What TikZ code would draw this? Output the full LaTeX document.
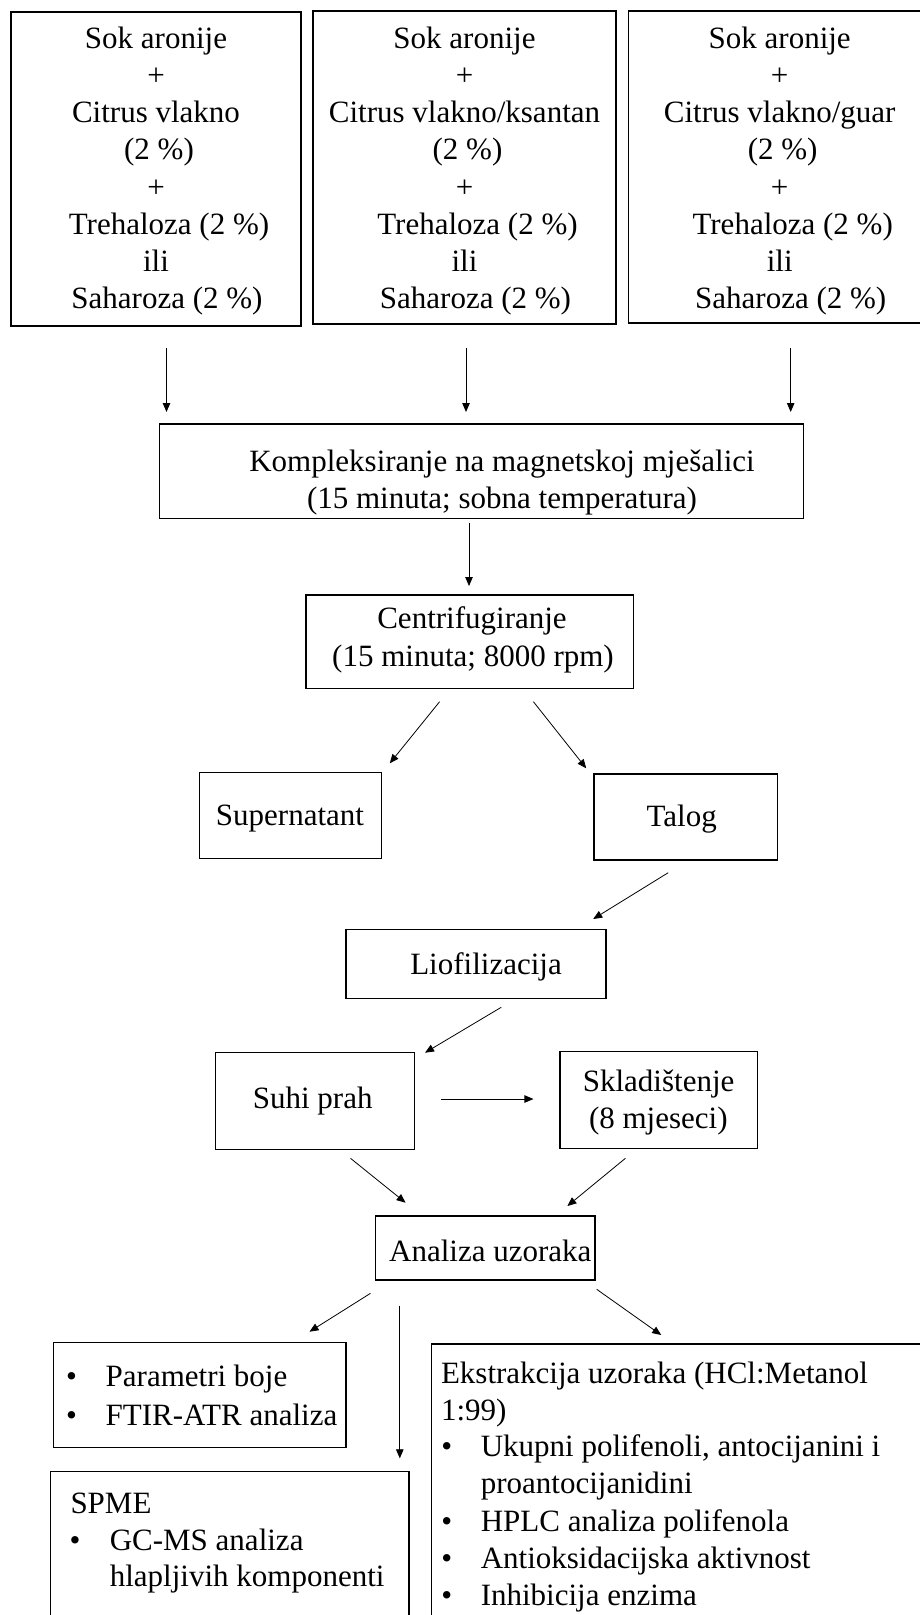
\documentclass[tikz,border=0pt]{standalone}
\usepackage{fontspec}
\setmainfont{Liberation Serif}
\usetikzlibrary{arrows.meta}
\newcommand\myfs{\fontsize{31}{37.2}\selectfont}
\begin{document}
\begin{tikzpicture}[x=1pt,y=-1pt,
  box/.style={draw, line width=1.3pt, inner sep=0pt},
  txt/.style={font=\myfs, anchor=base, inner sep=0pt},
  txtw/.style={font=\myfs, anchor=base west, inner sep=0pt},
  arr/.style={line width=0.8pt, -{Triangle[length=9pt,width=7.5pt]}}]
\useasboundingbox (0,0) rectangle (919,1615);
% boxes
\node[box, minimum width=290pt, minimum height=314pt] (b1) at (156,169) {};
\node[box, minimum width=303pt, minimum height=313pt] (b2) at (464.5,167.5) {};
\node[box, minimum width=303.5pt, minimum height=312pt] (b3) at (780.25,167) {};
\node[box, minimum width=644pt, minimum height=94.5pt] (K) at (481.5,471.25) {};
\node[box, minimum width=327.5pt, minimum height=93.5pt] (C) at (469.75,641.75) {};
\node[box, minimum width=182pt, minimum height=86pt] (S) at (290.5,815.5) {};
\node[box, minimum width=183.5pt, minimum height=86pt] (T) at (685.75,817) {};
\node[box, minimum width=260pt, minimum height=69pt] (L) at (476,964) {};
\node[box, minimum width=199pt, minimum height=97pt] (P) at (315,1101) {};
\node[box, minimum width=197.5pt, minimum height=97pt] (Sk) at (658.75,1100) {};
\node[box, minimum width=219.5pt, minimum height=64pt] (A) at (485.25,1248) {};
\node[box, minimum width=292.5pt, minimum height=105pt] (Pb) at (199.75,1395) {};
\node[box, minimum width=358.5pt, minimum height=168.5pt] (SP) at (229.75,1555.75) {};
\node[box, minimum width=508.5pt, minimum height=296pt] (E) at (685.75,1492) {};
% top box texts
\foreach \cx/\n in {156/1,464.5/2,779.7/3}{
  \node[txt] (s\n) at (\cx,48.3) {Sok aronije};
  \node[txt] (p\n) at (\cx,85.5) {+};
  \node[txt] (q\n) at (\cx+3,159.9) {(2 \%)};
  \node[txt] (r\n) at (\cx,197) {+};
  \node[txt] (t\n) at (\cx+13,234.3) {Trehaloza (2 \%)};
  \node[txt] (i\n) at (\cx,271.5) {ili};
  \node[txt] (h\n) at (\cx+11,308.7) {Saharoza (2 \%)};
}
\node[txt] (c1) at (156,122.7) {Citrus vlakno};
\node[txt] (c2) at (464.5,122.7) {Citrus vlakno/ksantan};
\node[txt] (c3) at (779.7,122.7) {Citrus vlakno/guar};
% middle texts
\node[txt] (k1) at (502,471.7) {Kompleksiranje na magnetskoj mješalici};
\node[txt] (k2) at (502,508) {(15 minuta; sobna temperatura)};
\node[txt] (ce1) at (472,628.3) {Centrifugiranje};
\node[txt] (ce2) at (473,666.7) {(15 minuta; 8000 rpm)};
\node[txt] (su) at (290,825) {Supernatant};
\node[txt] (ta) at (681.7,826.7) {Talog};
\node[txt] (li) at (486,974) {Liofilizacija};
\node[txt] (sp) at (312.7,1108.3) {Suhi prah};
\node[txt] (sk1) at (658.6,1091.7) {Skladištenje};
\node[txt] (sk2) at (658.3,1128.3) {(8 mjeseci)};
\node[txt] (an) at (490.3,1261.7) {Analiza uzoraka};
% bottom-left box
\node[txt] (pb1) at (71.5,1386.7) {\textbullet};
\node[txtw] (pt1) at (105.5,1386.7) {Parametri boje};
\node[txt] (pb2) at (71.5,1425) {\textbullet};
\node[txtw] (pt2) at (105.5,1425) {FTIR-ATR analiza};
% SPME box
\node[txtw] (spme) at (70.3,1513.3) {SPME};
\node[txt] (gb) at (75,1550) {\textbullet};
\node[txtw] (g1) at (109.6,1550) {GC-MS analiza};
\node[txtw] (g2) at (109.6,1586.7) {hlapljivih komponenti};
% Ekstrakcija box
\node[txtw] (e1) at (440.8,1383.3) {Ekstrakcija uzoraka (HCl:Metanol};
\node[txtw] (e2) at (440.8,1420) {1:99)};
\foreach \yy/\tx/\n in {1456.7/{Ukupni polifenoli, antocijanini i}/1,1531.7/{HPLC analiza polifenola}/3,1568.3/{Antioksidacijska aktivnost}/4,1605/{Inhibicija enzima}/5}{
  \node[txt] (eb\n) at (446.7,\yy) {\textbullet};
  \node[txtw] (et\n) at (480.6,\yy) {\tx};
}
\node[txtw] (et2) at (480.6,1493.3) {proantocijanidini};
% arrow end points
\coordinate (a1s) at (166.5,348);   \coordinate (a1e) at (166.5,412);
\coordinate (a2s) at (466,348);     \coordinate (a2e) at (466,412);
\coordinate (a3s) at (790.7,348);   \coordinate (a3e) at (790.7,412);
\coordinate (a4s) at (469,522.7);   \coordinate (a4e) at (469,586);
\coordinate (a5s) at (439.6,701.7); \coordinate (a5e) at (389.8,763.3);
\coordinate (a6s) at (533.4,701.7); \coordinate (a6e) at (586.2,768.3);
\coordinate (a7s) at (668.2,872.7); \coordinate (a7e) at (593.2,919);
\coordinate (a8s) at (501.2,1007.3);\coordinate (a8e) at (425,1052.7);
\coordinate (a9s) at (440.8,1099);  \coordinate (a9e) at (533.4,1099);
\coordinate (a10s) at (350.5,1158.3);\coordinate (a10e) at (405.6,1202.7);
\coordinate (a11s) at (625.4,1158.3);\coordinate (a11e) at (567.4,1206);
\coordinate (a12s) at (370.5,1293.3);\coordinate (a12e) at (309.5,1331.7);
\coordinate (a13s) at (399.8,1305.7);\coordinate (a13e) at (399.8,1458.3);
\coordinate (a14s) at (596.7,1289.3);\coordinate (a14e) at (661.2,1335);
\foreach \i in {1,...,14}{ \draw[arr] (a\i s) -- (a\i e); }
\end{tikzpicture}
\end{document}
